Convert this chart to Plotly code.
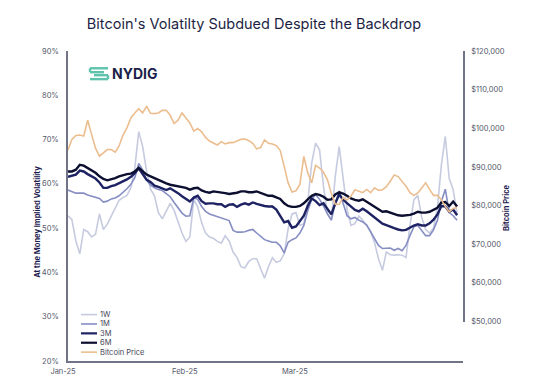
import pandas as pd
import plotly.graph_objects as go

# ---------------- data ----------------
dates = pd.date_range("2025-01-01", periods=100, freq="D")

vol_1w = [52.8, 51.9, 47.1, 44.2, 49.7, 49.2, 48.0, 48.6, 53.2, 49.7,
          50.9, 52.8, 54.7, 56.3, 56.9, 57.4, 59.1, 63.6, 71.8, 68.4,
          62.8, 58.8, 57.3, 53.5, 52.1, 53.9, 55.6, 54.0, 51.3, 48.9,
          47.0, 48.0, 56.5, 54.8, 51.2, 48.9, 48.0, 47.7, 47.0, 46.6,
          48.3, 47.1, 44.6, 43.4, 41.3, 41.0, 42.5, 43.1, 43.1, 40.9,
          38.7, 41.3, 43.3, 42.3, 42.6, 44.2, 49.8, 53.2, 53.5, 50.6,
          51.0, 55.8, 64.7, 69.2, 67.7, 59.5, 53.3, 51.8, 61.7, 68.4,
          60.7, 54.2, 50.6, 51.0, 52.7, 51.8, 50.6, 49.2, 46.7, 43.1,
          40.5, 44.6, 44.0, 43.9, 44.0, 43.9, 43.4, 50.6, 56.4, 57.4,
          52.4, 49.7, 48.9, 50.0, 54.7, 64.3, 70.7, 61.2, 58.7, 53.2]

vol_1m = [58.6, 58.2, 57.9, 57.9, 57.9, 57.5, 57.2, 57.0, 56.7, 55.9,
          56.1, 56.6, 56.8, 57.3, 58.0, 58.9, 59.9, 61.4, 64.6, 63.1,
          60.9, 59.7, 59.1, 58.7, 58.5, 57.9, 57.1, 55.8, 54.5, 53.4,
          52.7, 52.8, 56.9, 56.5, 54.9, 53.8, 53.2, 52.9, 52.6, 52.3,
          52.1, 51.7, 49.5, 49.1, 49.1, 49.2, 49.5, 49.7, 48.9, 48.1,
          47.4, 47.1, 46.8, 46.8, 46.0, 44.4, 46.8, 47.4, 47.8, 48.9,
          50.6, 53.9, 56.5, 57.6, 56.5, 55.0, 53.2, 51.8, 55.6, 58.4,
          55.3, 52.8, 52.1, 52.4, 51.8, 51.4, 50.7, 49.2, 47.5, 46.1,
          45.4, 45.5, 45.5, 45.0, 45.4, 44.9, 46.1, 48.3, 50.3, 50.6,
          49.3, 48.3, 48.3, 49.6, 51.8, 56.1, 58.8, 53.5, 52.8, 51.8]

vol_3m = [61.6, 61.8, 62.1, 63.0, 62.8, 62.2, 61.7, 61.2, 60.3, 59.1,
          59.1, 59.5, 59.7, 60.1, 60.5, 61.0, 61.6, 62.4, 63.5, 62.3,
          60.9, 60.4, 59.6, 59.3, 59.0, 58.6, 59.0, 58.5, 57.9, 57.2,
          56.5, 56.0, 56.9, 57.3, 56.1, 55.5, 55.6, 55.6, 55.4, 55.4,
          54.8, 55.3, 55.4, 54.8, 55.3, 55.6, 55.3, 55.8, 55.5, 55.2,
          55.0, 54.9, 54.9, 54.2, 52.8, 51.3, 51.6, 50.1, 50.4, 51.5,
          52.8, 55.0, 56.7, 56.1, 55.2, 55.6, 54.4, 53.1, 55.6, 57.6,
          56.4, 55.6, 55.0, 54.1, 53.8, 54.4, 53.8, 53.1, 52.6, 51.9,
          51.0, 50.7, 50.3, 50.0, 49.7, 49.5, 49.6, 50.2, 50.6, 50.9,
          50.6, 50.6, 51.1, 51.9, 53.1, 55.0, 54.9, 53.7, 54.2, 52.9]

vol_6m = [62.8, 62.8, 63.2, 64.3, 64.1, 63.6, 63.1, 62.5, 61.7, 61.1,
          60.8, 61.0, 61.3, 61.7, 62.0, 62.2, 62.3, 62.8, 63.6, 62.8,
          62.1, 61.7, 61.3, 60.8, 60.5, 60.1, 59.8, 59.6, 59.5, 59.3,
          59.1, 58.7, 59.0, 59.1, 58.5, 58.2, 58.0, 58.3, 58.2, 58.0,
          57.9, 57.7, 57.8, 58.0, 58.3, 58.3, 58.1, 58.1, 58.3, 58.0,
          57.6, 57.3, 57.3, 57.0, 56.6, 55.6, 55.0, 54.8, 54.8, 55.0,
          55.6, 56.5, 57.3, 57.7, 57.5, 57.1, 56.4, 56.5, 57.6, 58.1,
          57.8, 57.3, 56.7, 56.4, 56.2, 56.5, 55.9, 55.4, 54.9, 54.2,
          53.7, 53.8, 53.5, 53.1, 52.9, 52.8, 52.9, 53.0, 53.3, 53.7,
          53.5, 53.5, 53.7, 54.1, 54.6, 55.8, 55.9, 55.0, 56.0, 54.9]

btc_price = [94410, 97140, 98160, 98250, 98000, 102090, 98420, 94840, 92790, 93560,
             94500, 94500, 93820, 95440, 98250, 100120, 102680, 103960, 105070, 103960,
             105750, 103870, 103790, 103960, 104640, 104640, 103360, 101230, 102090, 103960,
             102680, 101400, 99270, 99950, 99100, 97650, 96710, 96120, 95690, 96540,
             95950, 96290, 96290, 96710, 97140, 97230, 96800, 96120, 94670, 95010,
             96970, 96120, 95950, 95520, 94240, 90150, 85890, 83500, 83840, 85460,
             92710, 88450, 85890, 90410, 89720, 88620, 86740, 83160, 80350, 80350,
             82050, 81450, 82480, 84100, 83670, 83330, 84180, 83330, 84610, 83930,
             84100, 84870, 86310, 87930, 87510, 86140, 85030, 83330, 82650, 83240,
             84690, 85890, 84180, 82650, 82650, 81540, 79750, 78390, 79240, 79490]

tick_dates = ["2025-01-01", "2025-02-01", "2025-03-01"]
tick_labels = ["Jan-25", "Feb-25", "Mar-25"]
legend_names = ["1W", "1M", "3M", "6M", "Bitcoin Price"]

# ---------------- styling ----------------
C_1W, C_1M, C_3M, C_6M, C_BTC = "#c6cbdf", "#868ec4", "#1d2262", "#0c0f30", "#ebbd8f"
AXIS = "#717486"
NAVY = "#1e2150"
TICK = "#55586a"
FONT = "Inter, 'Open Sans', sans-serif"

# plot area in pixels (for decorative placement)
X0, X1, Y0, Y1 = 60, 455, 43, 357


def px(x):
    return (x - X0) / (X1 - X0)


def py(y):
    return (Y1 - y) / (Y1 - Y0)


fig = go.Figure()
fig.add_trace(go.Scatter(x=dates, y=btc_price, yaxis="y2", mode="lines",
                         line=dict(color=C_BTC, width=1.6), name="Bitcoin Price"))
fig.add_trace(go.Scatter(x=dates, y=vol_1w, mode="lines",
                         line=dict(color=C_1W, width=1.6), name="1W"))
fig.add_trace(go.Scatter(x=dates, y=vol_1m, mode="lines",
                         line=dict(color=C_1M, width=1.6), name="1M"))
fig.add_trace(go.Scatter(x=dates, y=vol_3m, mode="lines",
                         line=dict(color=C_3M, width=2.4), name="3M"))
fig.add_trace(go.Scatter(x=dates, y=vol_6m, mode="lines",
                         line=dict(color=C_6M, width=2.4), name="6M"))

ticklabfont = dict(size=7.5, color=TICK, family=FONT)

fig.update_layout(
    width=555, height=380,
    margin=dict(l=X0, r=555 - X1, t=Y0, b=380 - Y1, pad=0),
    paper_bgcolor="white", plot_bgcolor="rgba(0,0,0,0)",
    showlegend=False,
    font=dict(family=FONT, color=TICK, size=8),
    title=dict(text="Bitcoin's Volatilty Subdued Despite the Backdrop",
               x=246 / 555, xanchor="center", xref="container",
               y=1 - 16 / 380, yanchor="middle", yref="container",
               font=dict(size=14.5, color="#1e1f45", family=FONT)),
    xaxis=dict(type="date", range=["2025-01-01", "2025-04-11 12:00"],
               tickvals=tick_dates, ticktext=tick_labels,
               showgrid=False, zeroline=False, showline=True,
               linecolor=AXIS, linewidth=1.5, ticks="",
               ticklabelstandoff=2, ticklabelshift=-5, tickfont=ticklabfont),
    yaxis=dict(range=[20, 90], dtick=10, ticksuffix="%",
               showgrid=False, zeroline=False, showline=True,
               linecolor=AXIS, linewidth=1.5, ticks="",
               ticklabelstandoff=6, tickfont=ticklabfont),
    yaxis2=dict(range=[50000, 120000], dtick=10000, tickformat="$,.0f",
                domain=[py(317), 1], anchor="x", side="right",
                showgrid=False, zeroline=False, showline=True,
                linecolor=AXIS, linewidth=1.5, ticks="",
                ticklabelstandoff=5, tickfont=ticklabfont),
)

annotations = [
    dict(text="<b>At the Money Implied Volatility</b>", x=px(30), y=py(216),
         xref="paper", yref="paper", xanchor="center", yanchor="middle",
         textangle=-90, showarrow=False,
         font=dict(size=7.5, color=NAVY, family=FONT)),
    dict(text="<b>Bitcoin Price</b>", x=px(499), y=py(201),
         xref="paper", yref="paper", xanchor="center", yanchor="middle",
         textangle=-90, showarrow=False,
         font=dict(size=7.5, color=NAVY, family=FONT)),
    dict(text="<b>NYDIG</b>", x=px(102), y=py(66), xref="paper", yref="paper",
         xanchor="left", yanchor="middle", showarrow=False,
         font=dict(size=14, color="#1b1f4a", family=FONT)),
]

shapes = []
# custom compact legend
leg_colors = [C_1W, C_1M, C_3M, C_6M, C_BTC]
leg_widths = [1.6, 1.6, 2.2, 2.2, 1.6]
leg_y = [310, 319.5, 329, 338.5, 348]
for name, col, w, yy in zip(legend_names, leg_colors, leg_widths, leg_y):
    shapes.append(dict(type="line", xref="paper", yref="paper",
                       x0=px(73), x1=px(89), y0=py(yy), y1=py(yy),
                       line=dict(color=col, width=w)))
    annotations.append(dict(text=name, x=px(90), y=py(yy), xref="paper", yref="paper",
                            xanchor="left", yanchor="middle", showarrow=False,
                            font=dict(size=7.5, color="#444657", family=FONT)))

# NYDIG icon (decorative)
TEAL = "#5ec3ad"
for (xa, ya, xb, yb) in [(82, 60.5, 100, 60.5), (82, 60.5, 82, 64.5), (82, 64.5, 96, 64.5),
                         (86, 67.5, 100, 67.5), (100, 67.5, 100, 71.5), (82, 71.5, 100, 71.5)]:
    shapes.append(dict(type="line", xref="paper", yref="paper",
                       x0=px(xa), y0=py(ya), x1=px(xb), y1=py(yb),
                       line=dict(color=TEAL, width=2.4)))

fig.update_layout(annotations=annotations, shapes=shapes)

fig.write_html("out.html")
